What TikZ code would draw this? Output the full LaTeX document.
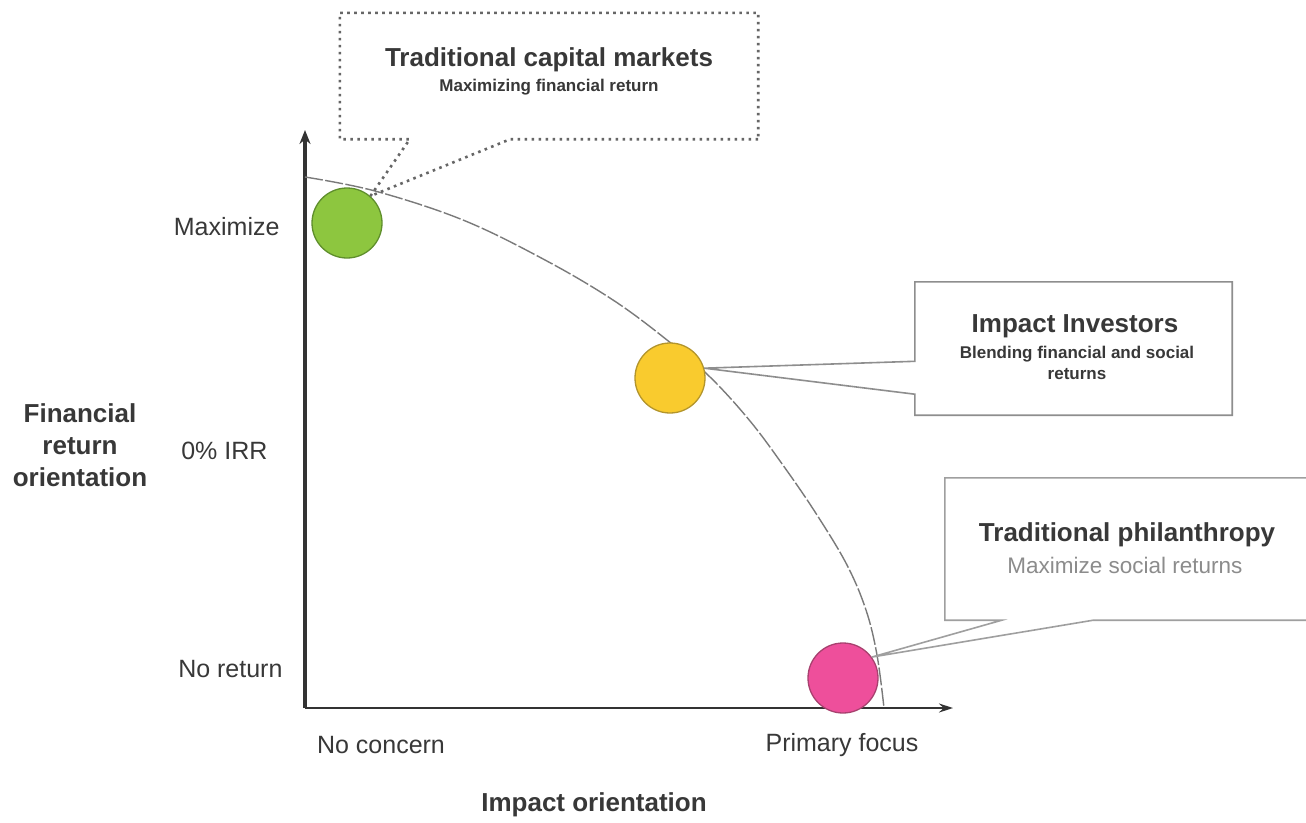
\documentclass[tikz,border=0pt]{standalone}
\usepackage{fontspec}
\setmainfont{Liberation Sans}
\usetikzlibrary{arrows.meta, calc}

\definecolor{txtdark}{HTML}{383838}
\definecolor{txtlight}{HTML}{8C8C8C}
\definecolor{axisdark}{HTML}{333333}
\definecolor{linegrey}{HTML}{7A7A7A}
\definecolor{boxgrey}{HTML}{8E8E8E}
\definecolor{dotgrey}{HTML}{666666}
\definecolor{greenfill}{HTML}{8DC63F}
\definecolor{greenline}{HTML}{5F8F2C}
\definecolor{yellowfill}{HTML}{F9CB2E}
\definecolor{yellowline}{HTML}{B3952C}
\definecolor{pinkfill}{HTML}{EE4F9B}
\definecolor{pinkline}{HTML}{A8416F}

\tikzset{
  axislbl/.style={text=txtdark, font=\fontsize{25}{30}\selectfont},
  titlelbl/.style={text=txtdark, font=\fontsize{26}{31}\selectfont\bfseries},
  sublbl/.style={text=txtdark, font=\fontsize{17}{21}\selectfont\bfseries, align=center},
  bubble/.style={circle, minimum size=70pt, inner sep=0pt, line width=1.3pt},
  boxshape/.style={rectangle, inner sep=0pt},
  calloutline/.style={boxgrey, line width=1.6pt},
}

\begin{document}
\begin{tikzpicture}[x=1pt, y=-1pt]
    \useasboundingbox[fill=white] (0,0) rectangle (1306,822);

    % Draw the axes
    \coordinate (origin) at (305,708);
    \coordinate (ytop) at (305,130);
    \coordinate (xend) at (953,708);
    \draw[axisdark, line width=1.6pt, -{Stealth[length=14pt, width=9pt]}] (origin) -- (xend);
    \draw[axisdark, line width=3.2pt, -{Stealth[length=14pt, width=11pt]}] (origin) -- (ytop);

    % Frontier curve
    \draw[linegrey, line width=1.4pt, dash pattern=on 18pt off 2.5pt]
        plot[smooth, tension=0.6] coordinates {(305,177) (375,191) (463,220) (545,260)
        (613,300) (667,340) (710,377) (750,421) (785,468) (817,515) (847,565)
        (866,610) (877,655) (884,708)};

    % Axis labels
    \node[axislbl, anchor=east] (maxlbl) at (283,227) {Maximize};
    \node[axislbl, anchor=east] (irrlbl) at (271,451) {0\% IRR};
    \node[axislbl, anchor=east] (noretlbl) at (286,669) {No return};
    \node[axislbl] (noconlbl) at (381,745) {No concern};
    \node[axislbl] (primlbl) at (842,745) {Primary focus};
    \node[titlelbl] (xtitle) at (594,805) {Impact orientation};
    \node[titlelbl, align=center, font=\fontsize{26}{32}\selectfont\bfseries] (ytitle) at (80,445)
        {Financial\\return\\orientation};

    % Investor bubbles
    \node[bubble, fill=greenfill, draw=greenline] (green) at (347,223) {};
    \node[bubble, fill=yellowfill, draw=yellowline] (yellow) at (670,378) {};
    \node[bubble, fill=pinkfill, draw=pinkline] (pink) at (843,678) {};

    % Callout boxes
    \node[boxshape, minimum width=418pt, minimum height=126pt] (capbox) at (549,76) {};
    \node[boxshape, minimum width=317pt, minimum height=133pt] (impbox) at (1073.5,348.5) {};
    \node[boxshape, minimum width=370pt, minimum height=142pt] (philbox) at (1130,549) {};

    \draw[dotgrey, line width=2.6pt, dash pattern=on 2.6pt off 4.4pt]
        (capbox.south east) -- ([xshift=-248pt]capbox.south east) -- (green.49)
        -- ([xshift=70pt]capbox.south west) -- (capbox.south west)
        -- (capbox.north west) -- (capbox.north east) -- cycle;
    \draw[calloutline]
        ([yshift=-79.5pt]impbox.north west) -- (yellow.16) -- ([yshift=21pt]impbox.south west)
        -- (impbox.south west) -- (impbox.south east) -- (impbox.north east)
        -- (impbox.north west) -- cycle;
    \draw[calloutline, boxgrey!85]
        ([xshift=-222pt]philbox.south east) -- (pink.36) -- ([xshift=57pt]philbox.south west)
        -- (philbox.south west) -- (philbox.north west) -- (philbox.north east)
        -- (philbox.south east) -- cycle;

    % Callout texts
    \node[titlelbl] (captitle) at (549,60) {Traditional capital markets};
    \node[sublbl] (capsub) at (549,87) {Maximizing financial return};
    \node[titlelbl] (imptitle) at (1075,326) {Impact Investors};
    \node[sublbl] (impsub) at (1077,363) {Blending financial and social\\returns};
    \node[titlelbl] (philtitle) at (1127,535) {Traditional philanthropy};
    \node[axislbl, text=txtlight, font=\fontsize{22.5}{27}\selectfont] (philsub) at (1125,565)
        {Maximize social returns};
\end{tikzpicture}
\end{document}
